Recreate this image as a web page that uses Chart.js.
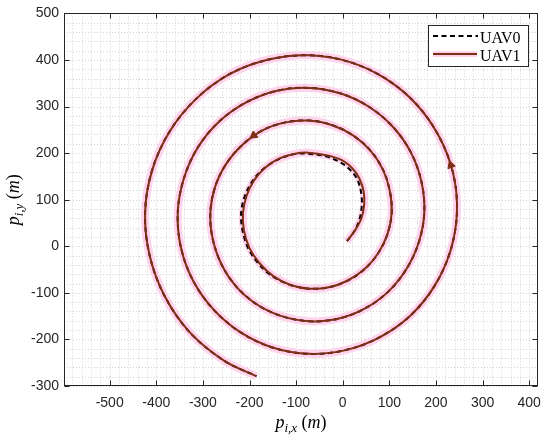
<!DOCTYPE html>
<html><head><meta charset="utf-8">
<script src="https://cdn.jsdelivr.net/npm/chart.js@4.4.0/dist/chart.umd.min.js"></script>
<style>html,body{margin:0;padding:0;background:#fff}#wrap{width:550px;height:439px}</style>
</head><body><div id="wrap"><canvas id="c" width="550" height="439"></canvas></div>
<script>
// ---- data ----
const xTicks = [-500,-400,-300,-200,-100,0,100,200,300,400];
const yTicks = [-300,-200,-100,0,100,200,300,400,500];
const xRange = [-598, 419];
const yRange = [-300, 500];

const uav1X = [9,25,40,46,45,36,21,0,-32,-74,
  -105,-137,-166,-190,-206,-214,-212,-200,-178,-149,
  -112,-72,-30,10,47,76,96,105,101,86,
  59,22,-22,-72,-123,-172,-215,-250,-274,-284,
  -279,-260,-228,-184,-131,-72,-12,45,96,136,
  163,175,169,147,109,57,-4,-72,-141,-207,
  -265,-311,-341,-354,-347,-321,-277,-219,-149,-72,
  6,80,146,197,231,245,237,207,158,92,
  14,-72,-159,-242,-314,-371,-409,-424,-414,-381,
  -327,-254,-185];
const uav1Y = [11,32,60,89,117,145,167,184,195,201,
  198,188,169,142,109,72,34,-4,-37,-64,
  -83,-91,-88,-74,-49,-15,26,72,119,165,
  206,238,260,270,266,249,218,177,127,72,
  16,-39,-87,-125,-150,-161,-156,-135,-99,-50,
  8,72,138,200,255,299,328,340,334,309,
  268,212,145,72,-3,-74,-136,-185,-218,-231,
  -223,-195,-148,-85,-10,72,156,235,305,360,
  396,410,401,370,317,247,163,72,-21,-109,
  -186,-246,-279];

const uav0X = [9,24,36,41,39,30,14,-5,-36,-78,
  -108,-139,-168,-193,-210,-218,-215,-203,-180,-150,
  -112,-72,-30,10,47,76,96,105,101,86,
  59,22,-22,-72,-123,-172,-215,-250,-274,-284,
  -279,-260,-228,-184,-131,-72,-12,45,96,136,
  163,175,169,147,109,57,-4,-72,-141,-207,
  -265,-311,-341,-354,-347,-321,-277,-219,-149,-72,
  6,80,146,197,231,245,237,207,158,92,
  14,-72,-159,-242,-314,-371,-409,-424,-414,-381,
  -327,-254,-185];
const uav0Y = [11,31,58,89,118,146,166,180,193,199,
  197,186,168,141,108,72,34,-4,-38,-65,
  -83,-91,-88,-74,-49,-15,26,72,119,165,
  206,238,260,270,266,249,218,177,127,72,
  16,-39,-87,-125,-150,-161,-156,-135,-99,-50,
  8,72,138,200,255,299,328,340,334,309,
  268,212,145,72,-3,-74,-136,-185,-218,-231,
  -223,-195,-148,-85,-10,72,156,235,305,360,
  396,410,401,370,317,247,163,72,-21,-109,
  -186,-246,-279];

const arrowX = [-191, 232];
const arrowY = [238, 174];
const arrowDir = [234, 341];

const seriesNames = ['UAV0', 'UAV1'];

// ---- styles ----
const RED = '#7e2f16';
const GLOW = '#ffd3ec';
const AXC = '#262626';
const gridStep = 20;

const toPts = (xs, ys) => xs.map((x, i) => ({x: x, y: ys[i]}));

function mathLabel(c, cx, cy, sub) {
  const big = 'italic 18px "Liberation Serif", "Times New Roman", serif';
  const up = '18px "Liberation Serif", "Times New Roman", serif';
  const small = 'italic 13px "Liberation Serif", "Times New Roman", serif';
  const parts = [[big,'p',0],[small,sub,4],[up,' (',0],[big,'m',0],[up,')',0]];
  let w = 0;
  parts.forEach(p => { c.font = p[0]; w += c.measureText(p[1]).width; });
  let x = cx - w/2;
  c.textBaseline = 'alphabetic'; c.textAlign = 'left'; c.fillStyle = '#000';
  parts.forEach(p => { c.font = p[0]; c.fillText(p[1], x, cy + p[2]); x += c.measureText(p[1]).width; });
}

const framePlugin = {
  id: 'frame',
  beforeDraw(chart) {
    const c = chart.ctx; c.save(); c.fillStyle = '#fff'; c.fillRect(0,0,chart.width,chart.height); c.restore();
  },
  beforeDatasetsDraw(chart) {
    const c = chart.ctx, a = chart.chartArea, sx = chart.scales.x, sy = chart.scales.y;
    c.save();
    c.strokeStyle = '#d2d2d2'; c.lineWidth = 1; c.setLineDash([1,2]);
    for (let v = Math.ceil(sx.min/gridStep)*gridStep; v <= sx.max; v += gridStep) {
      const p = Math.round(sx.getPixelForValue(v)) + 0.5;
      c.beginPath(); c.moveTo(p, a.top); c.lineTo(p, a.bottom); c.stroke();
    }
    for (let v = Math.ceil(sy.min/gridStep)*gridStep; v <= sy.max; v += gridStep) {
      const p = Math.round(sy.getPixelForValue(v)) + 0.5;
      c.beginPath(); c.moveTo(a.left, p); c.lineTo(a.right, p); c.stroke();
    }
    c.restore();
  },
  afterDatasetsDraw(chart) {
    const c = chart.ctx, a = chart.chartArea, sx = chart.scales.x, sy = chart.scales.y;
    c.save();
    c.strokeStyle = AXC; c.lineWidth = 1; c.setLineDash([]);
    const L = Math.round(a.left)+0.5, R = Math.round(a.right)-0.5, T = Math.round(a.top)+0.5, B = Math.round(a.bottom)-0.5;
    c.strokeRect(L, T, R-L, B-T);
    const tl = 5;
    xTicks.forEach(v => { const p = Math.round(sx.getPixelForValue(v))+0.5;
      c.beginPath(); c.moveTo(p,B); c.lineTo(p,B-tl); c.moveTo(p,T); c.lineTo(p,T+tl); c.stroke(); });
    yTicks.forEach(v => { const p = Math.round(sy.getPixelForValue(v))+0.5;
      c.beginPath(); c.moveTo(L,p); c.lineTo(L+tl,p); c.moveTo(R,p); c.lineTo(R-tl,p); c.stroke(); });

    // legend
    const bx = 428.5, by = 25.5, bw = 100, bh = 41;
    c.fillStyle = '#fff'; c.fillRect(bx, by, bw, bh);
    c.strokeStyle = AXC; c.strokeRect(bx, by, bw, bh);
    const d0 = chart.data.datasets.find(d => d.label === seriesNames[0]);
    const d1 = chart.data.datasets.find(d => d.label === seriesNames[1]);
    c.strokeStyle = d0.borderColor; c.lineWidth = d0.borderWidth; c.setLineDash(d0.borderDash);
    c.beginPath(); c.moveTo(433, 36); c.lineTo(478, 36); c.stroke();
    c.setLineDash([]);
    c.strokeStyle = GLOW; c.lineWidth = 6;
    c.beginPath(); c.moveTo(433, 54); c.lineTo(477, 54); c.stroke();
    c.strokeStyle = d1.borderColor; c.lineWidth = d1.borderWidth;
    c.beginPath(); c.moveTo(433, 54); c.lineTo(477, 54); c.stroke();
    c.fillStyle = '#000'; c.font = '16px "Liberation Serif", "Times New Roman", serif';
    c.textAlign = 'left'; c.textBaseline = 'alphabetic';
    c.fillText(seriesNames[0], 480, 43);
    c.fillText(seriesNames[1], 480, 61);

    // axis titles
    mathLabel(c, (a.left + a.right)/2, 428, 'i,x');
    c.translate(19, (a.top + a.bottom)/2);
    c.rotate(-Math.PI/2);
    mathLabel(c, 0, 0, 'i,y');
    c.restore();
  }
};

const fixTicks = list => (scale) => { scale.ticks = list.map(v => ({value: v})); };

new Chart(document.getElementById('c').getContext('2d'), {
  type: 'scatter',
  data: {
    datasets: [
      { label: 'arrows', data: toPts(arrowX, arrowY), showLine: false, pointStyle: 'triangle',
        pointRadius: 4.5, rotation: arrowDir, backgroundColor: RED, borderColor: RED, borderWidth: 1 },
      { label: seriesNames[1], data: toPts(uav1X, uav1Y), showLine: true, borderColor: RED, borderWidth: 2,
        pointRadius: 0, tension: 0.34, fill: false },
      { label: seriesNames[0], data: toPts(uav0X, uav0Y), showLine: true, borderColor: '#000', borderWidth: 2,
        borderDash: [5, 3.5], pointRadius: 0, tension: 0.34, fill: false },
      { label: 'glow', data: toPts(uav1X, uav1Y), showLine: true, borderColor: GLOW, borderWidth: 8,
        pointRadius: 0, tension: 0.34, fill: false }
    ]
  },
  options: {
    responsive: false, animation: false, devicePixelRatio: 1,
    layout: { padding: { top: 10, right: 8, left: 0, bottom: 0 } },
    plugins: { legend: { display: false }, tooltip: { enabled: false } },
    scales: {
      x: { type: 'linear', min: xRange[0], max: xRange[1],
        afterBuildTicks: fixTicks(xTicks),
        afterFit: s => { s.height = 53; },
        grid: { display: false, drawTicks: false }, border: { display: false },
        ticks: { autoSkip: false, maxRotation: 0, padding: 9, color: AXC,
          font: { family: '"Liberation Sans", Arial, sans-serif', size: 14 } } },
      y: { type: 'linear', min: yRange[0], max: yRange[1],
        afterBuildTicks: fixTicks(yTicks),
        afterFit: s => { s.width = 64; },
        grid: { display: false, drawTicks: false }, border: { display: false },
        ticks: { autoSkip: false, padding: 5, color: AXC,
          font: { family: '"Liberation Sans", Arial, sans-serif', size: 14 } } }
    }
  },
  plugins: [framePlugin]
});
</script></body></html>
